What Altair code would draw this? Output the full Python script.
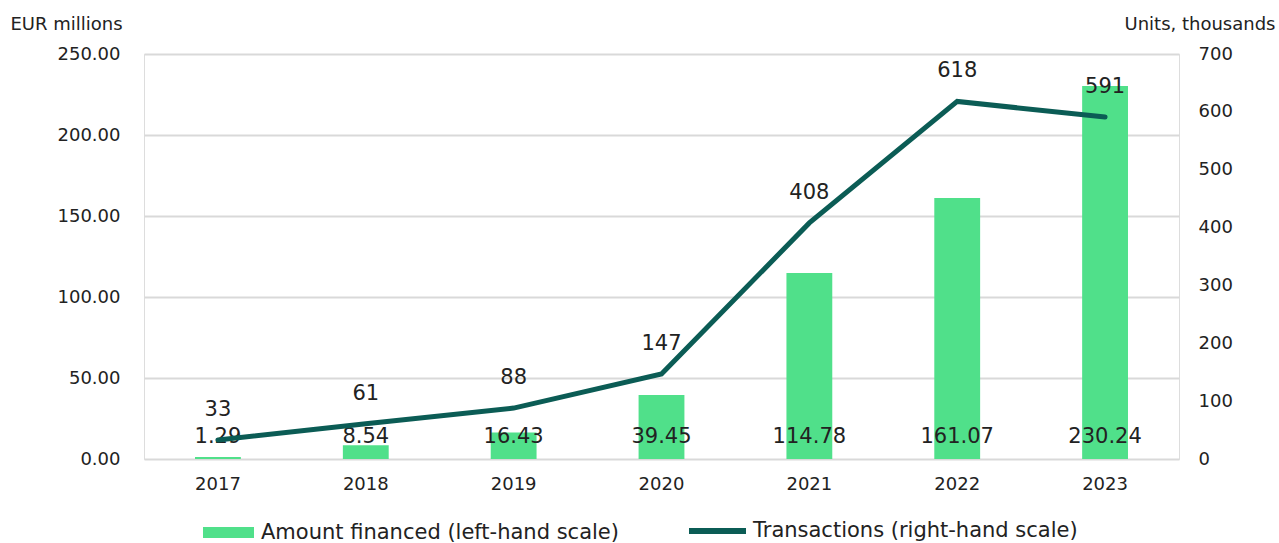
import altair as alt
import pandas as pd

years = ["2017", "2018", "2019", "2020", "2021", "2022", "2023"]
amount = [1.29, 8.54, 16.43, 39.45, 114.78, 161.07, 230.24]
transactions = [33, 61, 88, 147, 408, 618, 591]
left_ticks = [0, 50, 100, 150, 200, 250]
right_ticks = [0, 100, 200, 300, 400, 500, 600, 700]

df = pd.DataFrame({"year": years, "amount": amount, "transactions": transactions})

FONT = "DejaVu Sans"
BAR_COLOR = "#50E08A"
LINE_COLOR = "#0B5C55"
TEXT = "#222222"

x = alt.X("year:N", sort=years, title=None,
          scale=alt.Scale(paddingInner=0.69, paddingOuter=0.345),
          axis=alt.Axis(labelAngle=0, labelFont=FONT, labelFontSize=18, labelColor=TEXT,
                        labelPadding=16, domain=False, ticks=False))

bars = alt.Chart(df).mark_bar(color=BAR_COLOR).encode(
    x=x,
    y=alt.Y("amount:Q", title="EUR millions",
            scale=alt.Scale(domain=[0, 250], nice=False),
            axis=alt.Axis(values=left_ticks, format=".2f", labelFont=FONT, labelFontSize=18,
                          labelColor=TEXT, labelPadding=24, domain=False, ticks=False,
                          grid=True, gridColor="#d9d9d9", gridWidth=2,
                          titleFont=FONT, titleFontSize=18, titleFontWeight="normal",
                          titleColor=TEXT, titleAngle=0, titleAlign="left",
                          titleBaseline="alphabetic", titleX=-134, titleY=-25)),
    fill=alt.Fill("s:N", title=None,
                  scale=alt.Scale(domain=["Amount financed (left-hand scale)"], range=[BAR_COLOR]),
                  legend=alt.Legend(orient="none", legendX=59, legendY=453, padding=0,
                                    symbolType="M-1,-0.2157H1V0.2157H-1Z", symbolSize=2601,
                                    symbolStrokeWidth=0, symbolOpacity=1,
                                    labelFont=FONT, labelFontSize=21, labelColor=TEXT,
                                    labelOffset=7, labelLimit=600)),
).transform_calculate(s="'Amount financed (left-hand scale)'")

bar_text = alt.Chart(df).mark_text(font=FONT, fontSize=21, color=TEXT, baseline="middle", dy=-22).encode(
    x=alt.X("year:N", sort=years),
    y=alt.datum(0),
    text=alt.Text("amount:Q", format=".2f"),
)

line = alt.Chart(df).mark_line(color=LINE_COLOR, strokeWidth=5, strokeCap="round").encode(
    x=alt.X("year:N", sort=years),
    y=alt.Y("transactions:Q", title="Units, thousands",
            scale=alt.Scale(domain=[0, 700], nice=False),
            axis=alt.Axis(orient="right", values=right_ticks, format="d", labelFont=FONT,
                          labelFontSize=18, labelColor=TEXT, labelPadding=19, domain=False,
                          ticks=False, grid=False,
                          titleFont=FONT, titleFontSize=18, titleFontWeight="normal",
                          titleColor=TEXT, titleAngle=0, titleAlign="right",
                          titleBaseline="alphabetic", titleX=96, titleY=-25)),
    stroke=alt.Stroke("s:N", title=None,
                      scale=alt.Scale(domain=["Transactions (right-hand scale)"], range=[LINE_COLOR]),
                      legend=alt.Legend(orient="none", legendX=542, legendY=445.5, padding=0,
                                        symbolType="stroke", symbolSize=3249, symbolStrokeWidth=6,
                                        labelFont=FONT, labelFontSize=21, labelColor=TEXT,
                                        labelOffset=4, labelLimit=600)),
).transform_calculate(s="'Transactions (right-hand scale)'")

line_text = alt.Chart(df).mark_text(font=FONT, fontSize=21, color=TEXT, baseline="middle", dy=-30).encode(
    x=alt.X("year:N", sort=years),
    y=alt.Y("transactions:Q"),
    text=alt.Text("transactions:Q", format="d"),
)

left = alt.layer(bars, bar_text)
right = alt.layer(line, line_text)

chart = alt.layer(left, right).resolve_scale(y="independent", fill="independent", stroke="independent").properties(
    width=1035, height=405,
    padding={"left": 144, "top": 54, "right": 100, "bottom": 84},
    autosize=alt.AutoSizeParams(type="none"),
).configure_view(stroke=None).configure(background="white")

chart.save("out.html", embed_options={"renderer": "svg", "actions": False})
